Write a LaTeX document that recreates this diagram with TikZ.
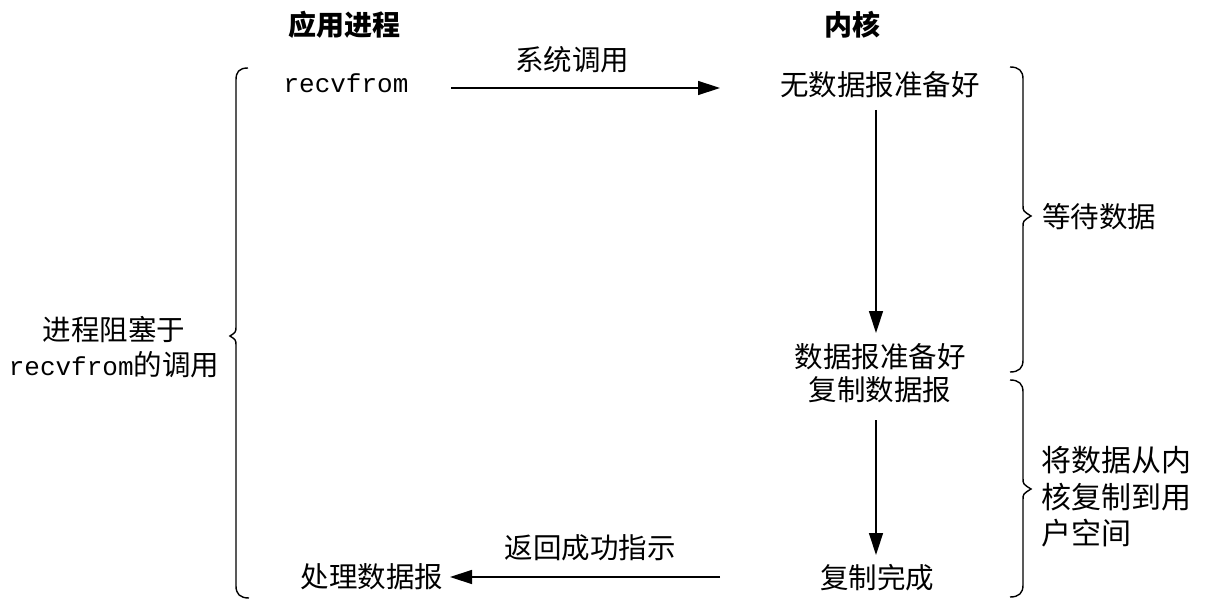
\documentclass[tikz,border=0pt]{standalone}
\usepackage{fontspec}
\setmainfont{Noto Sans CJK SC}
\newfontfamily\mono{Liberation Mono}
\usetikzlibrary{arrows.meta}
\tikzset{
  txt/.style={inner sep=0pt, font=\fontsize{28.5}{33}\selectfont},
  head/.style={inner sep=0pt, font=\fontsize{28}{33}\selectfont\bfseries},
  arr/.style={line width=1.4pt, -{Triangle[length=22pt,width=14pt]}},
  brace/.style={line width=1.4pt}
}
\begin{document}
\begin{tikzpicture}[x=1pt,y=-1pt]
\useasboundingbox (0,0) rectangle (1205,604);
% headers
\node[head] (happ) at (344,25) {应用进程};
\node[head] (hker) at (852,25) {内核};
% texts
\node[txt, font=\fontsize{26}{33}\selectfont\mono] (recv) at (346,83) {recvfrom};
\node[txt] (sys) at (572,60) {系统调用};
\node[txt] (nodata) at (880,85) {无数据报准备好};
\node[txt, align=center, font=\fontsize{28.5}{32.5}\selectfont] (ready) at (880,373) {数据报准备好\\复制数据报};
\node[txt] (done) at (877,578) {复制完成};
\node[txt] (proc) at (372,577) {处理数据报};
\node[txt] (ret) at (590,548) {返回成功指示};
\node[txt, align=center, font=\fontsize{28.5}{35}\selectfont] (block) at (114,347) {进程阻塞于\\{\fontsize{26}{35}\selectfont\mono recvfrom}的调用};
\node[txt] (wait) at (1099,217) {等待数据};
\node[txt, align=left, anchor=west, font=\fontsize{30}{36.5}\selectfont] (copy) at (1041,497) {将数据从内\\核复制到用\\户空间};
% arrow endpoints
\coordinate (a1s) at (451,88);
\coordinate (a1e) at (720,88);
\coordinate (a2s) at (876,110);
\coordinate (a2e) at (876,333);
\coordinate (a3s) at (876,420);
\coordinate (a3e) at (876,555);
\coordinate (a4s) at (720,577);
\coordinate (a4e) at (450,577);
\draw[arr] (a1s) -- (a1e);
\draw[arr] (a2s) -- (a2e);
\draw[arr] (a3s) -- (a3e);
\draw[arr] (a4s) -- (a4e);
% left brace
\draw[brace] (248,68) .. controls (239,68) and (236,72) .. (236,80) -- (236,326)
  .. controls (236,332) .. (230,336) .. controls (236,340) .. (236,346)
  -- (236,586) .. controls (236,594) and (240,598) .. (249,598);
% right brace 1
\draw[brace] (1010,67) .. controls (1019,67) and (1023,71) .. (1023,79) -- (1023,205)
  .. controls (1023,211) .. (1031,216) .. controls (1023,221) .. (1023,227)
  -- (1023,360) .. controls (1023,368) and (1019,372) .. (1010,372);
% right brace 2
\draw[brace] (1010,380) .. controls (1019,380) and (1023,384) .. (1023,392) -- (1023,478)
  .. controls (1023,484) .. (1031,489) .. controls (1023,494) .. (1023,500)
  -- (1023,585) .. controls (1023,593) and (1019,597) .. (1010,597);
\end{tikzpicture}
\end{document}
